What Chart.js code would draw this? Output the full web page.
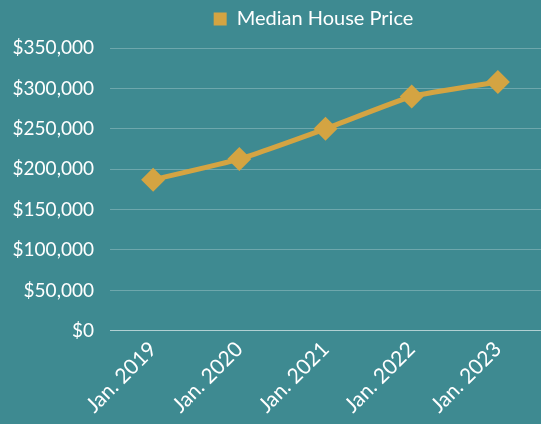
<!DOCTYPE html>
<html>
<head>
    <title>Median House Price</title>
    <script src="https://cdn.jsdelivr.net/npm/chart.js"></script>
    <style>
        body {
            margin: 0;
            padding: 0;
            overflow: hidden;
            background-color: #3e8a91;
        }
        #chart-container {
            position: fixed;
            top: 0;
            left: 0;
            width: 541px;
            height: 424px;
        }
    </style>
</head>
<body>
    <div id="chart-container">
        <canvas id="myChart"></canvas>
    </div>

    <script>
        const categories = ['Jan. 2019', 'Jan. 2020', 'Jan. 2021', 'Jan. 2022', 'Jan. 2023'];
        const medianPrice = [187000, 212500, 250000, 290000, 308000];
        const yTicks = [0, 50000, 100000, 150000, 200000, 250000, 300000, 350000];

        const gold = '#d4a442';
        const fontFamily = "Lato, 'Open Sans', sans-serif";

        Chart.defaults.color = '#ffffff';
        Chart.defaults.font.family = fontFamily;

        // leave some room under the legend and nudge it right
        const legendGap = {
            id: 'legendGap',
            beforeInit(chart) {
                const origFit = chart.legend.fit;
                chart.legend.fit = function () {
                    origFit.call(this);
                    this.height += 9;
                };
            },
            afterLayout(chart) {
                chart.legend.left = 86;
            }
        };

        new Chart(document.getElementById('myChart'), {
            type: 'line',
            data: {
                labels: categories,
                datasets: [{
                    label: 'Median House Price',
                    data: medianPrice,
                    borderColor: gold,
                    backgroundColor: gold,
                    borderWidth: 5,
                    pointStyle: 'rectRot',
                    pointRadius: 12,
                    pointBackgroundColor: gold,
                    pointBorderWidth: 0,
                    tension: 0.15,
                    clip: false
                }]
            },
            plugins: [legendGap],
            options: {
                responsive: true,
                maintainAspectRatio: false,
                animation: false,
                layout: { autoPadding: false, padding: { left: 0, right: 0, top: 0, bottom: 0 } },
                plugins: {
                    legend: {
                        display: true,
                        position: 'top',
                        labels: {
                            boxWidth: 13,
                            boxHeight: 13,
                            padding: 9,
                            color: '#ffffff',
                            font: { size: 20 },
                            generateLabels: (chart) => [{
                                text: 'Median House Price',
                                fillStyle: gold,
                                strokeStyle: gold,
                                fontColor: '#ffffff',
                                lineWidth: 0,
                                pointStyle: 'rect',
                                datasetIndex: 0
                            }]
                        }
                    },
                    tooltip: { enabled: false }
                },
                scales: {
                    x: {
                        offset: true,
                        grid: { display: false, drawTicks: false },
                        border: { display: false },
                        afterFit: (scale) => { scale.paddingRight = 0; },
                        ticks: {
                            color: '#ffffff',
                            font: { size: 21 },
                            maxRotation: 45,
                            minRotation: 45,
                            padding: 6
                        }
                    },
                    y: {
                        min: 0,
                        max: 350000,
                        afterBuildTicks: (scale) => {
                            scale.ticks = yTicks.map(v => ({ value: v }));
                        },
                        afterFit: (scale) => { scale.width = 110; },
                        grid: {
                            drawTicks: false,
                            lineWidth: 1,
                            color: (ctx) => ctx.tick && ctx.tick.value === 0 ? 'rgba(255,255,255,0.6)' : 'rgba(255,255,255,0.25)'
                        },
                        border: { display: false },
                        ticks: {
                            color: '#ffffff',
                            font: { size: 19 },
                            padding: 16,
                            callback: (v) => '$' + v.toLocaleString('en-US')
                        }
                    }
                }
            }
        });
    </script>
</body>
</html>
